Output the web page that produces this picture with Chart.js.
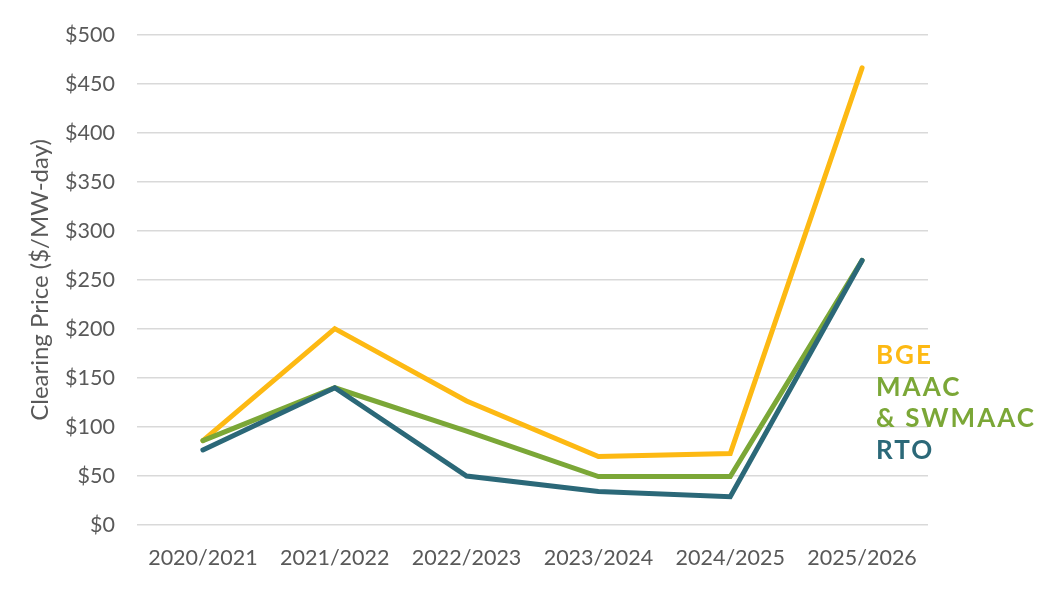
<!DOCTYPE html>
<html><head><meta charset="utf-8">
<script src="https://cdn.jsdelivr.net/npm/chart.js@4"></script>
<style>html,body{margin:0;padding:0;background:#fff}#wrap{width:1057px;height:598px}</style>
</head><body><div id="wrap"><canvas id="c" width="1057" height="598"></canvas></div>
<script>
const categories = ["2020/2021","2021/2022","2022/2023","2023/2024","2024/2025","2025/2026"];
const bge = [86.04, 200.30, 126.50, 69.95, 73.00, 466.35];
const maac = [86.04, 140.00, 95.79, 49.49, 49.49, 269.92];
const rto = [76.53, 140.00, 50.00, 34.13, 28.92, 269.92];
const seriesNames = ["BGE", "MAAC\n& SWMAAC", "RTO"];
const colors = ["#FDB913", "#7BA737", "#2B6878"];

const labelPlugin = {
  id: 'sideLabels',
  afterDraw(chart) {
    const ctx = chart.ctx;
    const x = chart.chartArea.right - 52;
    ctx.save();
    ctx.font = 'bold 26px Lato';
    ctx.letterSpacing = '2px';
    ctx.textBaseline = 'middle';
    ctx.textAlign = 'left';
    const lines = [[seriesNames[0], colors[0]]];
    seriesNames[1].split('\n').forEach(s => lines.push([s, colors[1]]));
    lines.push([seriesNames[2], colors[2]]);
    const y0 = 356, dy = 31.5;
    lines.forEach((l, i) => { ctx.fillStyle = l[1]; ctx.fillText(l[0], x, y0 + i * dy); });
    ctx.restore();
  }
};

new Chart(document.getElementById('c'), {
  type: 'line',
  data: {
    labels: categories,
    datasets: [
      {label: 'RTO', data: rto, borderColor: colors[2], backgroundColor: colors[2]},
      {label: 'MAAC', data: maac, borderColor: colors[1], backgroundColor: colors[1]},
      {label: 'BGE', data: bge, borderColor: colors[0], backgroundColor: colors[0]}
    ].map(d => Object.assign(d, {borderWidth: 5, pointRadius: 0, tension: 0, borderCapStyle: 'round'}))
  },
  options: {
    responsive: false,
    animation: false,
    layout: {padding: {top: 34, right: 129, left: 0, bottom: 0}},
    plugins: {legend: {display: false}, tooltip: {enabled: false}},
    scales: {
      x: {
        offset: true,
        grid: {display: false},
        border: {display: false},
        ticks: {color: '#595959', font: {family: 'Lato', size: 21.5}, padding: 12, maxRotation: 0},
        afterFit(s) { s.height = 73; }
      },
      y: {
        min: 0, max: 500,
        ticks: {stepSize: 50, color: '#595959', font: {family: 'Lato', size: 21.5}, padding: 22,
          callback: v => '$' + v},
        grid: {color: '#d9d9d9', lineWidth: 1.5, drawTicks: false},
        border: {display: false},
        title: {display: true, text: 'Clearing Price ($/MW-day)', color: '#595959', font: {family: 'Lato', size: 24}, padding: {top: 26, bottom: 0}},
        afterFit(s) { s.width = 137; }
      }
    }
  },
  plugins: [labelPlugin]
});
</script></body></html>
